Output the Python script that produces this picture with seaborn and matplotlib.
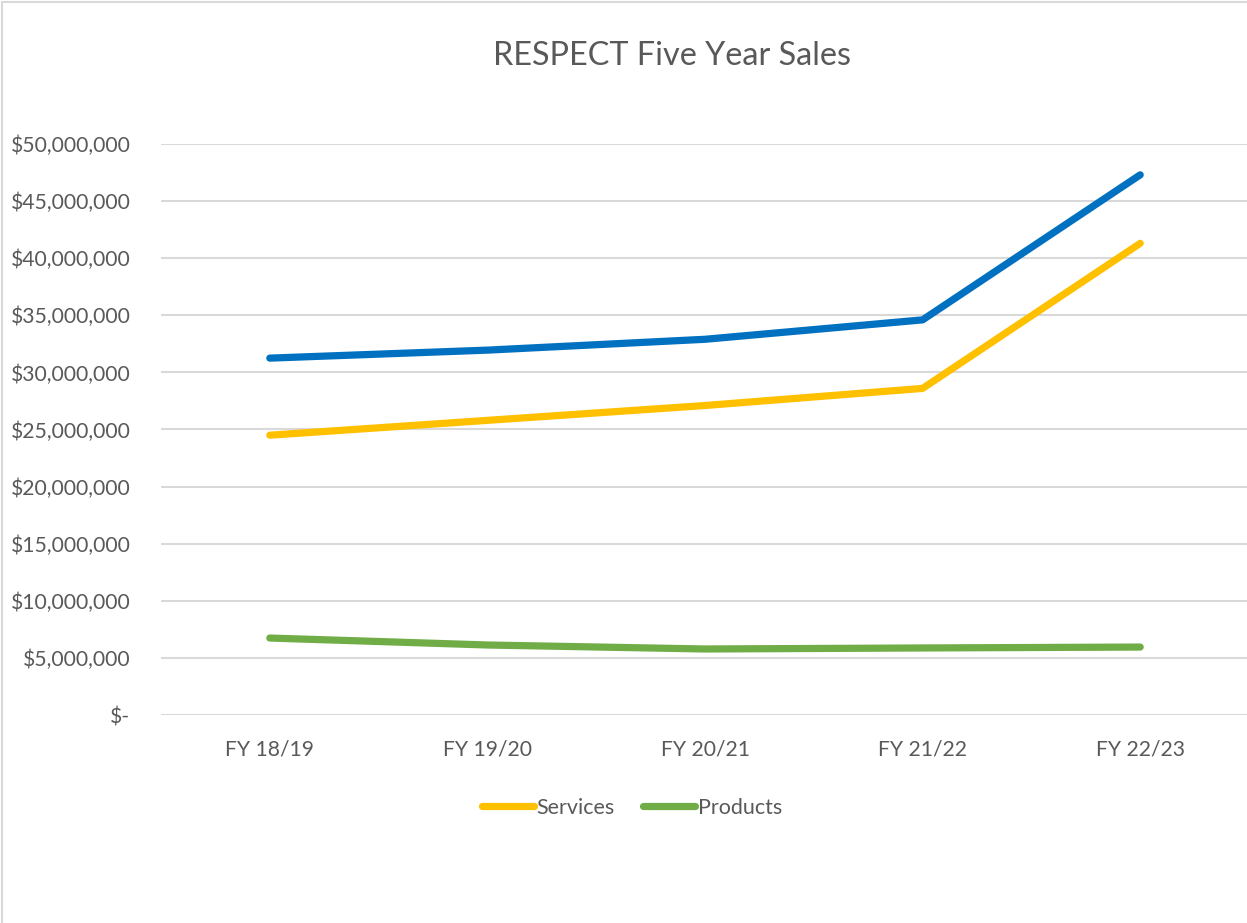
import matplotlib
matplotlib.use("Agg")
import pandas as pd
import seaborn as sns
from matplotlib import pyplot as plt
from matplotlib.patches import Rectangle
from matplotlib.ticker import FuncFormatter

years = ["FY 18/19", "FY 19/20", "FY 20/21", "FY 21/22", "FY 22/23"]
services = [24.5e6, 25.8e6, 27.1e6, 28.6e6, 41.3e6]
products = [6.74e6, 6.13e6, 5.78e6, 5.87e6, 5.95e6]
total = [31.25e6, 31.95e6, 32.9e6, 34.6e6, 47.3e6]

series_names = ["Total", "Services", "Products"]
colors = {"Total": "#0070C0", "Services": "#FFC000", "Products": "#70AD47"}

df = pd.DataFrame({
    "year": years * 3,
    "series": ["Total"] * 5 + ["Services"] * 5 + ["Products"] * 5,
    "value": total + services + products,
})

sns.set_style("white")
plt.rcParams["font.family"] = ["Lato", "DejaVu Sans"]

fig = plt.figure(figsize=(12.47, 9.23), dpi=100)
ax = fig.add_axes([161 / 1247, 1 - 715 / 923, 1088 / 1247, 571 / 923])

sns.lineplot(data=df, x="year", y="value", hue="series", hue_order=series_names,
             palette=colors, linewidth=5.2, legend=False, ax=ax,
             solid_capstyle="round", solid_joinstyle="round")

ax.set_ylim(0, 50e6)
ax.set_xlim(-0.5, 4.5)
ax.set_yticks(range(0, 50_000_001, 5_000_000))
ax.yaxis.set_major_formatter(FuncFormatter(lambda v, p: "$-" if v == 0 else f"${v:,.0f}"))
ax.grid(axis="y", color="#D9D9D9", linewidth=1.5)
ax.set_axisbelow(True)
for s in ax.spines.values():
    s.set_visible(False)
ax.tick_params(axis="both", length=0, labelsize=15.2, labelcolor="#595959")
ax.tick_params(axis="y", pad=22)
ax.tick_params(axis="x", pad=18)
ax.set_xlabel("")
ax.set_ylabel("")

fig.text(0.539, 1 - 56 / 923, "RESPECT Five Year Sales", ha="center", va="center",
         fontsize=23.3, color="#595959")

handles = ax.lines[1:3]
leg = fig.legend(handles, ["Services", "Products"], loc="center",
                 bbox_to_anchor=(632 / 1247, 1 - 808 / 923), ncol=2, frameon=False,
                 fontsize=15.5, labelcolor="#595959", handlelength=2.4,
                 handletextpad=0.15, columnspacing=1.3)

fig.add_artist(Rectangle((0.0015, -0.1), 1.2, 1.098, transform=fig.transFigure,
                         fill=False, edgecolor="#D9D9D9", linewidth=1.5))

fig.savefig("out.png", dpi=100)
